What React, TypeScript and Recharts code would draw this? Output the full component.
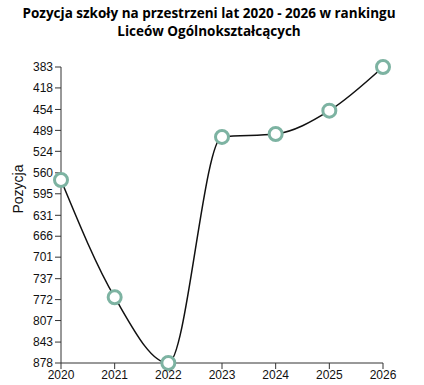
import React from 'react';
import { LineChart, Line, XAxis, YAxis, Label } from 'recharts';

const years = [2020, 2021, 2022, 2023, 2024, 2025, 2026];
const positions = [572, 768, 878, 500, 495, 456, 383];
const yTicks = [383, 418, 454, 489, 524, 560, 595, 631, 666, 701, 737, 772, 807, 843, 878];

const data = years.map((year, i) => ({ year, pozycja: positions[i] }));

const tickStyle = { fontFamily: 'Arial, "Liberation Sans", sans-serif', fontSize: 12, fill: '#111' };

export default function App() {
  return (
    <div style={{ position: 'absolute', left: 0, top: 0, width: 424, height: 385, background: '#fff' }}>
      <div
        style={{
          position: 'absolute',
          top: 4,
          left: 0,
          width: 418,
          textAlign: 'center',
          fontFamily: '"Open Sans", sans-serif',
          fontWeight: 700,
          fontSize: 13.5,
          lineHeight: '18px',
          color: '#000',
        }}
      >
        Pozycja szkoły na przestrzeni lat 2020 - 2026 w rankingu
        <br />
        Liceów Ogólnokształcących
      </div>
      <LineChart
        width={424}
        height={385}
        data={data}
        margin={{ top: 67, right: 41, bottom: 2, left: 21 }}
      >
        <XAxis
          dataKey="year"
          type="number"
          domain={[2020, 2026]}
          ticks={years}
          height={20}
          tick={tickStyle}
          tickSize={6}
          tickMargin={1}
          stroke="#333"
        />
        <YAxis
          type="number"
          domain={[383, 878]}
          reversed
          ticks={yTicks}
          interval={0}
          width={40}
          tick={tickStyle}
          tickSize={6}
          tickMargin={2}
          stroke="#333"
        >
          <Label
            value="Pozycja"
            angle={-90}
            position="insideLeft"
            offset={-3}
            dy={-26}
            style={{ fontFamily: 'Arial, "Liberation Sans", sans-serif', fontSize: 14, fill: '#111', textAnchor: 'middle' }}
          />
        </YAxis>
        <Line
          type="monotone"
          dataKey="pozycja"
          stroke="#111"
          strokeWidth={1.5}
          dot={{ r: 6.5, stroke: '#7db3a2', strokeWidth: 3, fill: '#fff' }}
          isAnimationActive={false}
        />
      </LineChart>
    </div>
  );
}
